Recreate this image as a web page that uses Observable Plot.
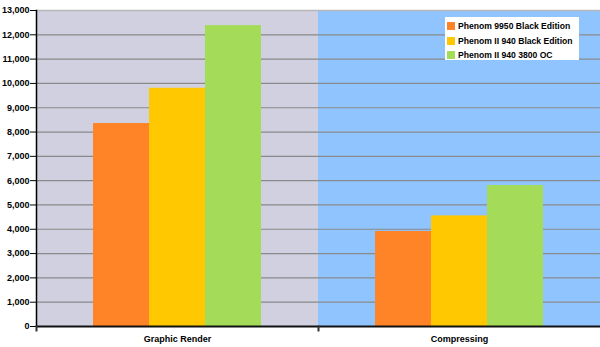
<!DOCTYPE html>
<html><head><meta charset="utf-8">
<script src="https://cdn.jsdelivr.net/npm/d3@7"></script>
<script src="https://cdn.jsdelivr.net/npm/@observablehq/plot@0.6"></script>
<style>
body{margin:0;background:#fff;font-family:"Liberation Sans",Arial,sans-serif;}
#wrap{position:relative;width:600px;height:347px;}
#legend{position:absolute;left:445px;top:17px;width:134px;height:43px;background:#fff;font-weight:bold;font-size:8.6px;color:#000;}
#legend .row{position:absolute;left:2px;height:10px;line-height:10px;white-space:nowrap;}
#legend .sw{display:inline-block;width:8px;height:8px;vertical-align:top;margin-top:1px;margin-right:3px;}
</style></head>
<body><div id="wrap"><div id="legend"></div></div>
<script>
const categories = ["Graphic Render", "Compressing"];
const series = ["Phenom 9950 Black Edition", "Phenom II 940 Black Edition", "Phenom II 940 3800 OC"];
const graphicRender = [8350, 9800, 12380];
const compressing = [3910, 4550, 5800];
const seriesColors = ["#FF8427", "#FFC800", "#A4DC5A"];
const bandColors = ["#D0D0E0", "#90C4FF"];
const yTicks = [0,1000,2000,3000,4000,5000,6000,7000,8000,9000,10000,11000,12000,13000];

const valuesByCat = [graphicRender, compressing];
const data = [];
categories.forEach((c, i) => series.forEach((s, j) => data.push({cat: c, series: s, value: valuesByCat[i][j]})));
const bg = categories.map((c, i) => ({cat: c, color: bandColors[i]}));
const yMax = yTicks[yTicks.length - 1];

const chart = Plot.plot({
  width: 600, height: 347,
  marginLeft: 36, marginRight: 0, marginTop: 10, marginBottom: 21,
  style: {fontFamily: "Liberation Sans, Arial, sans-serif", fontSize: "9px", fontWeight: "bold", background: "transparent", color: "#000"},
  fx: {domain: categories, padding: 0, label: null, axis: null},
  x: {domain: series, paddingInner: 0, paddingOuter: 1, axis: null},
  y: {domain: [0, yMax], axis: null, label: null},
  color: {domain: series, range: seriesColors},
  marks: [
    Plot.barY(bg.slice(0,1), {fx: "cat", y1: 0, y2: yMax, fill: bandColors[0]}),
    Plot.barY(bg.slice(1,2), {fx: "cat", y1: 0, y2: yMax, fill: bandColors[1]}),
    Plot.gridY(yTicks.slice(1, -1), {stroke: "#8a8a8a", strokeOpacity: 1, strokeWidth: 1.2}),
    Plot.ruleY([yMax], {stroke: "#b8b8b8", strokeWidth: 1.5}),
    Plot.barY(data, {fx: "cat", x: "series", y: "value", fill: "series"}),
    Plot.ruleY([0], {stroke: "#111", strokeWidth: 2}),
    Plot.axisY(yTicks, {tickSize: 6, tickPadding: 1, tickFormat: d3.format(","), stroke: "#000", fontWeight: "bold", fontSize: 9, label: null}),
    Plot.frame({anchor: "left", facet: "super", stroke: "#000", strokeWidth: 1.5}),
    Plot.frame({anchor: "left", insetTop: 316, insetBottom: -4, stroke: "#333", strokeWidth: 2}),
    Plot.axisFx({anchor: "bottom", tickSize: 0, tickPadding: 9, label: null, fontWeight: "bold", fontSize: 9})
  ]
});
const wrap = document.getElementById("wrap");
wrap.insertBefore(chart, wrap.firstChild);

const legend = document.getElementById("legend");
series.forEach((s, i) => {
  const row = document.createElement("div");
  row.className = "row";
  row.style.top = (4 + i * 14.5) + "px";
  const sw = document.createElement("span");
  sw.className = "sw";
  sw.style.background = seriesColors[i];
  row.appendChild(sw);
  row.appendChild(document.createTextNode(s));
  legend.appendChild(row);
});
</script>
</body></html>
